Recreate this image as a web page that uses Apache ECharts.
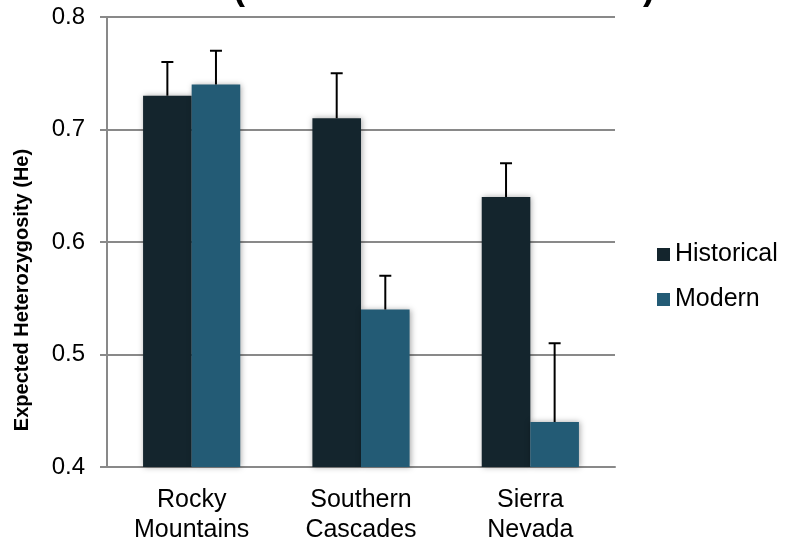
<!DOCTYPE html>
<html>
<head>
<meta charset="utf-8">
<script src="https://cdn.jsdelivr.net/npm/echarts@6/dist/echarts.min.js"></script>
<style>
  html, body { margin: 0; padding: 0; background: #fff; }
  #chart { width: 790px; height: 545px; }
</style>
</head>
<body>
<div id="chart"></div>
<script>
const categories = ["Rocky\nMountains", "Southern\nCascades", "Sierra\nNevada"];
const historical = [0.73, 0.71, 0.64];
const modern = [0.74, 0.54, 0.44];
const historicalErr = [0.03, 0.04, 0.03];
const modernErr = [0.03, 0.03, 0.07];
const yTicks = [0.4, 0.5, 0.6, 0.7, 0.8];

const gapRatio = 0.426;
const font = "Liberation Sans, Arial, sans-serif";

// upward-only error whiskers, shifted to sit on each bar of the pair
function errorSeries(name, values, errs, side) {
  return {
    name: name + " err",
    type: "custom",
    z: 5,
    silent: true,
    data: values.map((v, i) => [i, v, v + errs[i]]),
    renderItem: function (params, api) {
      const cat = api.value(0);
      const bandW = api.size([1, 0])[0];
      const barW = bandW * (1 - gapRatio) / 2;
      const lo = api.coord([cat, api.value(1)]);
      const hi = api.coord([cat, api.value(2)]);
      const x = lo[0] + side * barW / 2;
      const style = { stroke: "#000", lineWidth: 2 };
      return {
        type: "group",
        children: [
          { type: "line", shape: { x1: x, y1: lo[1], x2: x, y2: hi[1] }, style: style },
          { type: "line", shape: { x1: x - 6, y1: hi[1], x2: x + 6, y2: hi[1] }, style: style }
        ]
      };
    }
  };
}

const chart = echarts.init(document.getElementById("chart"));
chart.setOption({
  animation: false,
  title: {
    text: "(Mean \u00b1 SE across sites)",
    left: 228,
    top: -34,
    textStyle: { fontFamily: font, fontSize: 36, fontWeight: "bold", color: "#000" }
  },
  legend: {
    orient: "vertical",
    left: 652,
    top: 237,
    itemWidth: 13,
    itemHeight: 13,
    itemGap: 20,
    icon: "rect",
    data: ["Historical", "Modern"],
    textStyle: { fontFamily: font, fontSize: 25, color: "#000" }
  },
  grid: { left: 107, right: 175, top: 17, bottom: 78 },
  xAxis: {
    type: "category",
    data: categories,
    axisLine: { lineStyle: { color: "#898989", width: 2 } },
    axisTick: { length: 7, lineStyle: { color: "#898989", width: 2 } },
    axisLabel: { fontFamily: font, fontSize: 25, color: "#000", lineHeight: 30, margin: 18 }
  },
  yAxis: {
    type: "value",
    min: 0.4,
    max: 0.8,
    interval: 0.1,
    name: "Expected Heterozygosity (He)",
    nameLocation: "middle",
    nameGap: 75,
    nameTextStyle: {
      fontFamily: font, fontSize: 20, fontWeight: "bold", color: "#000",
      padding: [0, 96, 0, 0]
    },
    axisLine: { show: true, lineStyle: { color: "#898989", width: 2 } },
    axisTick: { show: true, length: 7, lineStyle: { color: "#898989", width: 2 } },
    splitLine: { lineStyle: { color: "#898989", width: 2 } },
    axisLabel: {
      fontFamily: font, fontSize: 24, color: "#000", margin: 22,
      formatter: v => yTicks.includes(Math.round(v * 10) / 10) ? v.toFixed(1) : ""
    }
  },
  series: [
    {
      name: "Historical",
      type: "bar",
      data: historical,
      barGap: "0%",
      barCategoryGap: (gapRatio * 100) + "%",
      itemStyle: {
        color: "#14252d",
        shadowBlur: 6, shadowColor: "rgba(0,0,0,0.35)", shadowOffsetX: 1, shadowOffsetY: 0
      }
    },
    {
      name: "Modern",
      type: "bar",
      data: modern,
      barGap: "0%",
      barCategoryGap: (gapRatio * 100) + "%",
      itemStyle: {
        color: "#235b75",
        shadowBlur: 6, shadowColor: "rgba(0,0,0,0.35)", shadowOffsetX: 1, shadowOffsetY: 0
      }
    },
    errorSeries("Historical", historical, historicalErr, -1),
    errorSeries("Modern", modern, modernErr, 1)
  ]
});
</script>
</body>
</html>
